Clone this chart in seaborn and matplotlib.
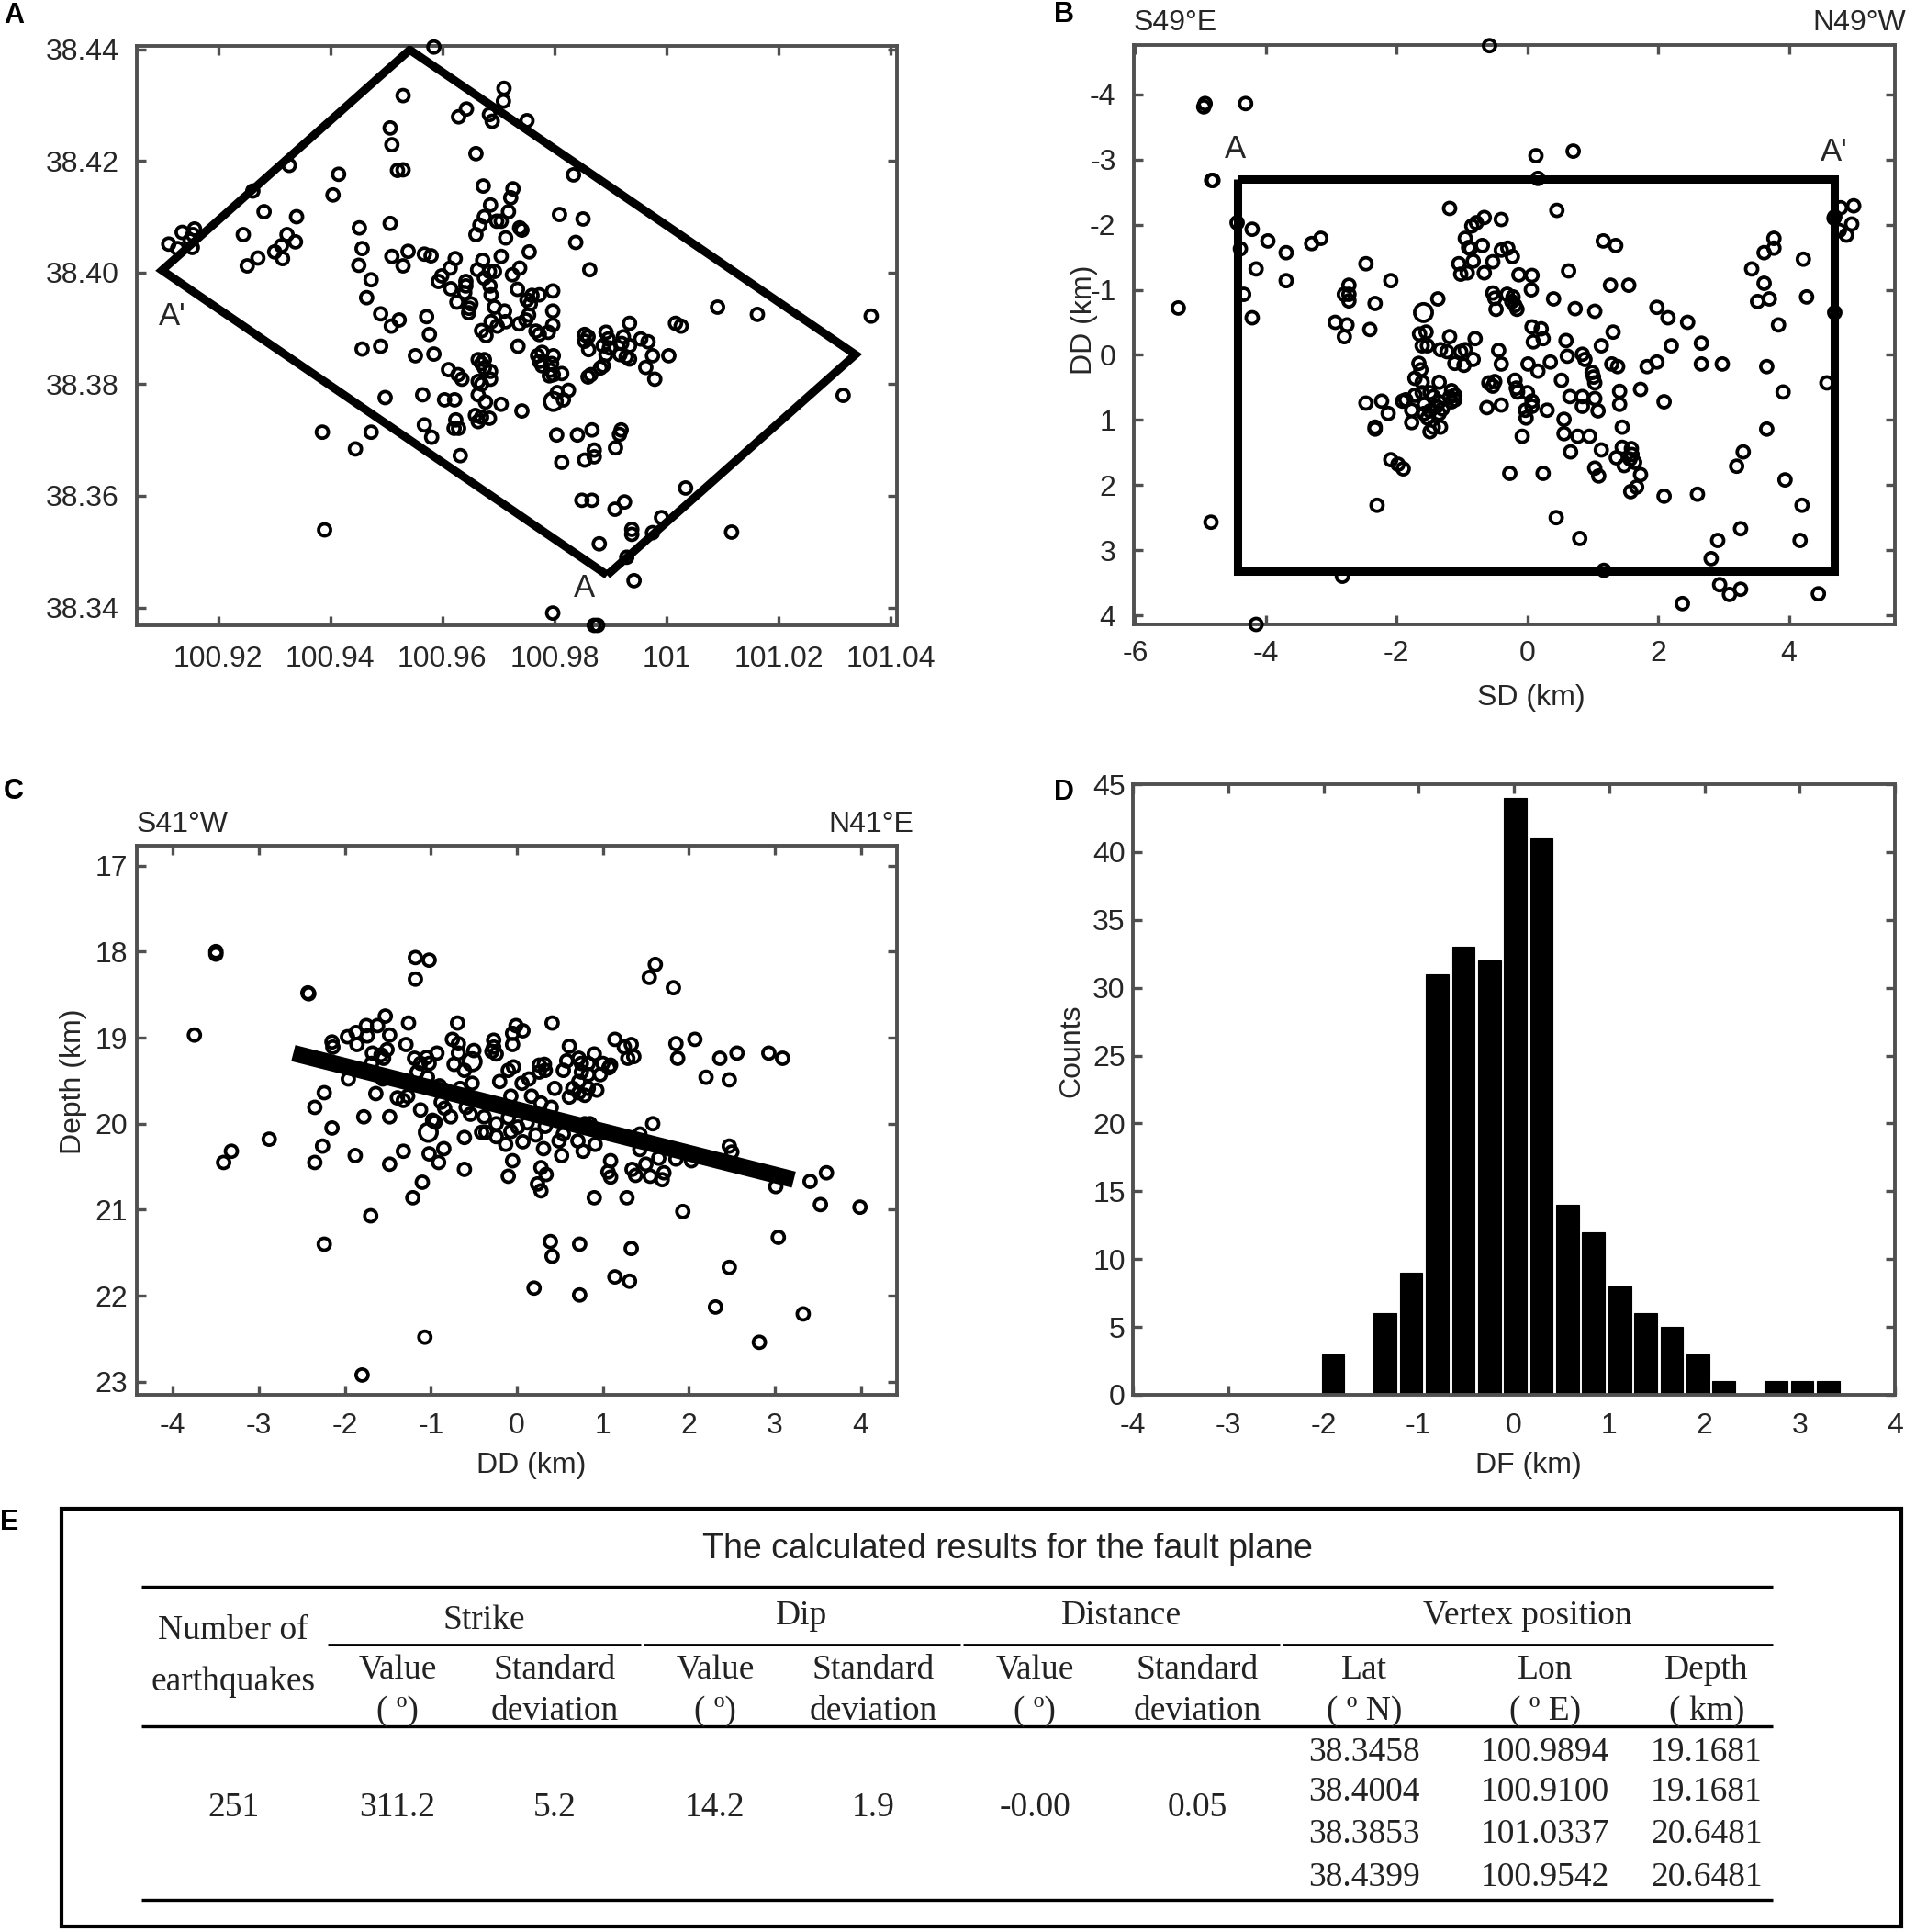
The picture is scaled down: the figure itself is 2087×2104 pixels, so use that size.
import matplotlib
matplotlib.use('Agg')
import matplotlib.pyplot as plt
import pandas as pd
import seaborn as sns

# values
A_POINTS = [
    (100.9585,38.4404),(100.971,38.433),(100.9709,38.4307),(100.953,38.4317),(100.9643,38.4293),(100.9629,38.4279),
    (100.9684,38.4283),(100.9689,38.4271),(100.9751,38.4272),(100.9507,38.4259),(100.951,38.4229),(100.966,38.4213),
    (100.952,38.4183),(100.953,38.4184),(100.9327,38.4192),(100.9415,38.4176),(100.9834,38.4175),(100.9262,38.4146),
    (100.9405,38.4139),(100.9673,38.4155),(100.9726,38.415),(100.9722,38.4134),(100.9686,38.4121),(100.9718,38.4109),
    (100.9675,38.41),(100.9667,38.4085),(100.966,38.4068),(100.9697,38.4092),(100.9705,38.4092),(100.9713,38.4062),
    (100.9738,38.408),(100.9742,38.4076),(100.9809,38.4104),(100.9851,38.4096),(100.9838,38.4054),(100.9282,38.4109),
    (100.934,38.41),(100.9245,38.4068),(100.9323,38.4068),(100.9338,38.4055),(100.9313,38.4048),(100.9301,38.4037),
    (100.9315,38.4025),(100.9271,38.4026),(100.9252,38.4012),(100.9112,38.4051),(100.9136,38.4072),(100.9158,38.4078),
    (100.9155,38.4068),(100.915,38.4058),(100.9128,38.4043),(100.9154,38.4045),(100.9452,38.408),(100.9507,38.4088),
    (100.9457,38.4043),(100.9451,38.4013),(100.951,38.4029),(100.9539,38.4038),(100.953,38.4012),(100.9568,38.4033),
    (100.958,38.403),(100.9473,38.3987),(100.9465,38.3955),(100.949,38.3926),(100.9523,38.3915),(100.9509,38.3904),
    (100.9572,38.3921),(100.9577,38.3889),(100.9457,38.3863),(100.949,38.3868),(100.9552,38.3851),(100.9585,38.3854),
    (100.9498,38.3776),(100.9565,38.3781),(100.9611,38.3826),(100.9628,38.3817),(100.9635,38.3809),(100.9604,38.3772),
    (100.9622,38.3772),(100.9623,38.4025),(100.9614,38.4008),(100.9599,38.3994),(100.9593,38.3984),(100.9615,38.3971),
    (100.9642,38.3984),(100.9642,38.3976),(100.964,38.3964),(100.9626,38.3947),(100.9651,38.3944),(100.9648,38.3936),
    (100.9647,38.3928),(100.9672,38.4022),(100.9663,38.4005),(100.9693,38.4002),(100.9684,38.4002),(100.9675,38.399),
    (100.9685,38.3976),(100.9687,38.396),(100.9693,38.3938),(100.9705,38.4029),(100.9725,38.3996),(100.9738,38.4008),
    (100.9755,38.4037),(100.9734,38.397),(100.9863,38.4005),(100.9797,38.3967),(100.9773,38.396),(100.976,38.3959),
    (100.9751,38.3951),(100.9757,38.3944),(100.9797,38.3931),(100.9797,38.3906),(100.9711,38.3931),(100.9713,38.3912),
    (100.9687,38.3912),(100.9698,38.3904),(100.967,38.3896),(100.9678,38.3887),(100.9754,38.3924),(100.9749,38.3915),
    (100.9737,38.3908),(100.9767,38.3895),(100.9773,38.3889),(100.9789,38.3893),(100.9735,38.3868),(100.9778,38.3857),
    (100.977,38.3851),(100.9798,38.3851),(100.9773,38.3841),(100.9778,38.3833),(100.9795,38.3837),(100.9793,38.3825),
    (100.9798,38.3817),(100.9813,38.3819),(100.9791,38.3815),(100.9664,38.3844),(100.9675,38.3844),(100.967,38.3837),
    (100.9675,38.3829),(100.9686,38.3823),(100.9686,38.3809),(100.9664,38.3805),(100.967,38.38),(100.9664,38.3781),
    (100.9677,38.3768),(100.9705,38.3764),(100.9742,38.3752),(100.9659,38.3744),(100.967,38.3741),(100.9664,38.3733),
    (100.9684,38.3739),(100.9624,38.3736),(100.9621,38.3721),(100.9629,38.3721),(100.9568,38.3727),(100.9581,38.3705),
    (100.9632,38.3672),(100.9386,38.3714),(100.9473,38.3714),(100.9445,38.3684),(100.9805,38.3785),(100.9816,38.3772),
    (100.9825,38.3789),(100.9804,38.3709),(100.9841,38.3709),(100.9867,38.3718),(100.9813,38.366),(100.9854,38.3664),
    (100.9871,38.3682),(100.9871,38.367),(100.9909,38.3686),(100.9919,38.3718),(100.9916,38.371),(100.9849,38.3592),
    (100.9867,38.3592),(100.9925,38.3589),(100.9908,38.3576),(101.0034,38.3614),(100.9991,38.3561),(100.9938,38.354),
    (100.9938,38.3531),(100.9975,38.3534),(100.988,38.3514),(100.9929,38.349),(100.9942,38.3448),(100.939,38.3539),
    (101.0116,38.3535),(100.9797,38.339),(100.9871,38.3368),(100.9877,38.3368),(100.9854,38.3877),(100.986,38.3885),
    (100.9854,38.3889),(100.9861,38.3862),(100.986,38.3813),(100.9865,38.3817),(100.9892,38.3893),(100.9896,38.3881),
    (100.9887,38.3869),(100.9898,38.3865),(100.9892,38.3853),(100.9887,38.3833),(100.9882,38.3829),(100.9923,38.3885),
    (100.992,38.3873),(100.9917,38.3853),(100.9934,38.3869),(100.9934,38.3845),(100.9928,38.3849),(100.9934,38.3909),
    (100.9954,38.3881),(100.9967,38.3876),(100.9975,38.3851),(101.0004,38.3851),(100.9963,38.383),(100.9979,38.3809),
    (101.0016,38.3909),(101.0026,38.3904),(101.0091,38.3938),(101.0162,38.3925),(101.0365,38.3922),(101.0315,38.378),
]
A_BIG = [(100.9798, 38.3769)]
A_VERTEX_LON = [100.9894, 101.0337, 100.9542, 100.9100, 100.9894]
A_VERTEX_LAT = [38.3458, 38.3853, 38.4399, 38.4004, 38.3458]

B_POINTS = [
    (-0.58,-4.75),(-4.95,-3.81),(-4.93,-3.86),(-4.31,-3.86),(0.13,-3.06),(0.70,-3.13),(-4.83,-2.68),(-4.81,-2.68),
    (0.16,-2.71),(-4.44,-2.03),(-4.21,-1.93),(-3.97,-1.75),(-3.69,-1.57),(-3.30,-1.71),(-3.16,-1.79),(-4.39,-1.63),
    (-4.15,-1.32),(-3.69,-1.14),(-4.34,-0.93),(-4.21,-0.57),(-5.34,-0.72),(-2.73,-1.07),(-2.80,-0.93),(-2.73,-0.93),
    (-2.73,-0.83),(-2.33,-0.79),(-2.47,-1.40),(-2.09,-1.14),(-2.94,-0.50),(-2.76,-0.46),(-2.80,-0.28),(-2.41,-0.39),
    (-1.19,-2.25),(-0.66,-2.11),(-0.40,-2.08),(-0.78,-2.03),(-0.85,-1.98),(-0.95,-1.79),(-0.90,-1.65),(-0.87,-1.63),
    (-0.69,-1.68),(-0.40,-1.61),(-0.30,-1.64),(-0.23,-1.51),(-0.53,-1.43),(-0.83,-1.44),(-1.05,-1.40),(-0.92,-1.26),
    (-1.02,-1.24),(-0.66,-1.26),(-0.13,-1.23),(0.07,-1.22),(0.06,-1.00),(0.63,-1.29),(0.45,-2.22),(1.16,-1.75),
    (1.35,-1.68),(1.27,-1.07),(1.55,-1.07),(-1.37,-0.86),(-0.53,-0.95),(-0.50,-0.87),(-0.31,-0.93),(-0.22,-0.89),
    (-0.24,-0.82),(-0.19,-0.76),(-0.48,-0.70),(-0.16,-0.70),(0.40,-0.86),(0.73,-0.71),(1.03,-0.67),(1.98,-0.73),
    (2.15,-0.57),(2.45,-0.50),(1.31,-0.35),(0.07,-0.43),(0.21,-0.40),(0.24,-0.25),(0.09,-0.20),(0.59,-0.22),
    (1.13,-0.14),(2.20,-0.14),(2.66,-0.18),(-1.65,-0.32),(-1.55,-0.35),(-1.61,-0.14),(-1.53,-0.14),(-1.19,-0.28),
    (-1.33,-0.08),(-1.23,-0.05),(-0.80,-0.25),(-0.95,-0.08),(-1.02,-0.05),(-0.83,0.07),(-0.97,0.16),(-1.11,0.13),
    (-0.44,-0.07),(-0.40,0.14),(0.01,0.14),(0.35,0.11),(0.16,0.25),(0.61,0.02),(0.84,-0.01),(0.88,0.07),
    (1.29,0.14),(1.38,0.18),(0.99,0.27),(1.01,0.34),(1.03,0.43),(1.83,0.18),(1.98,0.11),(2.66,0.14),
    (2.98,0.14),(3.66,0.18),(4.58,0.43),(3.91,0.57),(1.41,0.56),(1.73,0.53),(2.09,0.72),(1.41,0.76),
    (1.03,0.67),(1.08,0.86),(0.52,0.39),(-0.19,0.39),(-0.17,0.51),(-0.15,0.57),(-0.59,0.43),(-0.50,0.41),
    (-0.53,0.48),(0.00,0.58),(0.07,0.71),(0.07,0.79),(-0.03,0.85),(-0.02,0.97),(0.65,0.64),(0.84,0.64),
    (0.84,0.79),(0.30,0.85),(-0.62,0.81),(-0.40,0.77),(0.56,0.99),(0.56,1.21),(0.77,1.25),(0.95,1.25),
    (-0.08,1.25),(1.45,1.11),(0.66,1.49),(1.13,1.46),(1.45,1.42),(1.59,1.44),(1.60,1.53),(1.36,1.58),
    (1.57,1.60),(1.64,1.65),(1.48,1.70),(1.03,1.74),(1.09,1.86),(1.73,1.84),(1.67,2.03),(1.58,2.10),
    (-0.27,1.82),(0.24,1.82),(2.09,2.17),(2.60,2.14),(3.66,1.14),(3.30,1.49),(3.20,1.71),(3.94,1.92),
    (4.20,2.31),(4.17,2.85),(3.26,2.67),(2.91,2.85),(2.81,3.13),(0.44,2.50),(0.80,2.82),(-4.84,2.57),
    (-2.30,2.31),(-2.83,3.40),(1.17,3.31),(2.94,3.53),(3.09,3.68),(3.26,3.60),(2.37,3.82),(4.45,3.67),
    (-4.15,4.14),(-1.66,0.13),(-1.63,0.23),(-1.72,0.36),(-1.61,0.42),(-1.35,0.42),(-1.91,0.71),(-1.86,0.69),
    (-1.72,0.62),(-1.61,0.58),(-1.49,0.58),(-1.44,0.64),(-1.35,0.72),(-1.77,0.85),(-1.58,0.76),(-1.58,0.90),
    (-1.49,0.86),(-1.39,0.79),(-1.30,0.83),(-1.35,0.90),(-1.53,0.97),(-1.77,1.04),(-1.44,1.11),(-1.33,1.11),
    (-1.49,1.18),(-1.16,0.55),(-1.11,0.62),(-1.11,0.69),(-1.19,0.65),(-1.16,0.72),(-2.47,0.74),(-2.23,0.71),
    (-2.13,0.90),(-2.33,1.11),(-2.33,1.14),(-2.09,1.61),(-1.98,1.68),(-1.90,1.75),(4.70,-2.12),(4.79,-2.26),
    (4.99,-2.29),(4.96,-2.01),(4.77,-1.91),(4.88,-1.84),(4.69,-2.10),(4.70,-0.65),(3.77,-1.79),(3.77,-1.64),
    (3.62,-1.57),(3.43,-1.32),(3.62,-1.10),(3.52,-0.82),(3.70,-0.86),(3.84,-0.46),(4.22,-1.47),(4.27,-0.89),
]
B_BIG = [(-1.59, -0.65)]
B_RECT_SD = [-4.44, 4.70, 4.70, -4.44, -4.44]
B_RECT_DD = [-2.70, -2.70, 3.32, 3.32, -2.70]

C_POINTS = [
    (-3.50,18.0),(-3.50,18.03),(-3.75,18.97),(-2.43,18.48),(-2.42,18.49),(-1.18,18.07),(-1.02,18.10),(-1.18,18.32),
    (1.61,18.15),(1.54,18.30),(1.82,18.42),(-2.88,20.18),(-3.32,20.32),(-3.41,20.45),(-1.53,18.75),(-1.75,18.86),
    (-1.62,18.86),(-1.87,18.94),(-1.74,18.98),(-1.48,18.97),(-1.97,18.99),(-2.15,19.05),(-2.14,19.11),(-1.86,19.08),
    (-1.29,19.08),(-1.26,18.83),(-1.51,19.14),(-1.68,19.18),(-1.58,19.20),(-1.55,19.24),(-1.69,19.30),(-1.19,19.24),
    (-1.05,19.23),(-0.93,19.18),(-1.12,19.30),(-1.02,19.30),(-1.16,19.40),(-1.04,19.46),(-1.96,19.48),(-1.56,19.48),
    (-0.69,18.83),(-0.75,19.02),(-0.68,19.07),(-0.68,19.18),(-0.50,19.15),(-0.73,19.31),(-0.61,19.38),(-0.27,19.03),
    (-0.27,19.11),(-0.29,19.16),(-0.24,19.19),(-0.01,18.86),(-0.05,18.95),(0.07,18.92),(-0.05,19.08),(0.41,18.83),
    (0.61,19.10),(-0.10,19.38),(-0.04,19.34),(-0.20,19.51),(0.06,19.53),(0.14,19.48),(0.26,19.32),(0.32,19.31),
    (0.26,19.40),(0.33,19.38),(0.44,19.59),(0.54,19.38),(0.58,19.27),(-0.52,19.53),(-0.90,19.56),(-0.84,19.61),
    (-0.66,19.59),(-0.07,19.68),(0.17,19.68),(0.28,19.76),(0.40,19.81),(0.65,19.59),(0.61,19.69),(0.72,19.64),
    (0.79,19.67),(0.83,19.59),(0.93,19.61),(0.72,19.24),(0.90,19.19),(0.75,19.30),(0.83,19.30),(0.75,19.40),
    (0.83,19.43),(0.72,19.51),(1.00,19.30),(1.07,19.35),(0.97,19.43),(1.09,19.32),(1.29,19.24),(1.36,19.22),
    (1.14,19.02),(1.25,19.11),(1.33,19.08),(1.85,19.07),(1.87,19.24),(2.07,19.02),(2.36,19.24),(2.56,19.18),
    (2.20,19.46),(2.47,19.49),(2.93,19.18),(3.09,19.24),(-2.24,19.64),(-2.35,19.81),(-2.15,20.05),(-1.64,19.65),
    (-1.78,19.92),(-1.48,19.92),(-1.39,19.70),(-1.32,19.73),(-1.27,19.68),(-1.12,19.84),(-0.98,19.96),(-0.95,19.98),
    (-0.77,19.92),(-0.88,19.75),(-0.84,19.82),(-0.59,19.81),(-0.54,19.89),(-0.38,19.92),(-0.61,20.16),(-0.41,20.10),
    (-0.36,20.10),(-0.24,20.0),(-0.24,20.15),(-0.13,20.24),(-0.10,19.93),(-0.07,20.09),(0.07,20.21),(0.01,20.04),
    (0.12,19.99),(0.22,20.13),(0.33,20.03),(0.31,20.29),(0.49,20.20),(0.54,20.12),(0.52,20.37),(0.71,20.20),
    (0.77,20.32),(0.91,20.24),(0.79,20.0),(0.85,20.0),(1.09,20.43),(1.43,20.12),(1.43,20.30),(1.58,20.0),
    (1.65,20.40),(1.85,20.41),(2.03,20.43),(2.47,20.26),(2.50,20.33),(1.34,20.53),(1.38,20.60),(1.50,20.47),
    (1.55,20.61),(1.71,20.57),(1.69,20.65),(1.06,20.56),(1.09,20.62),(-2.26,20.26),(-2.35,20.45),(-1.88,20.37),
    (-1.32,20.32),(-1.48,20.47),(-1.02,20.35),(-0.85,20.29),(-0.91,20.45),(-0.61,20.53),(-0.05,20.43),(-0.10,20.61),
    (0.28,20.51),(0.34,20.59),(0.24,20.70),(0.28,20.78),(-1.10,20.68),(-1.21,20.86),(0.90,20.86),(1.28,20.86),
    (1.93,21.02),(-1.70,21.07),(-2.24,21.40),(0.39,21.37),(0.41,21.54),(0.73,21.40),(1.33,21.45),(1.14,21.78),
    (1.31,21.83),(0.20,21.91),(0.73,21.99),(2.47,21.67),(3.04,21.32),(2.31,22.13),(3.33,22.21),(2.82,22.54),
    (-1.07,22.48),(-1.80,22.92),(3.01,20.73),(3.41,20.67),(3.60,20.57),(3.53,20.94),(3.99,20.97),
]
C_BIG = [(-1.03, 20.10), (-0.52, 19.28)]
C_FAULT_DD = [-2.60, 3.22]
C_FAULT_DEPTH = [19.18, 20.65]

D_CENTERS = [-1.90, -1.63, -1.35, -1.08, -0.80, -0.53, -0.26, 0.01, 0.29, 0.56,
             0.83, 1.11, 1.38, 1.66, 1.93, 2.20, 2.47, 2.75, 3.02, 3.30]
D_COUNTS = [3, 0, 6, 9, 31, 33, 32, 44, 41, 14, 12, 8, 6, 5, 3, 1, 0, 1, 1, 1]

GROUP_HEADERS = ['Strike', 'Dip', 'Distance', 'Vertex position']
SUB_TOP = ['Value', 'Standard', 'Value', 'Standard', 'Value', 'Standard', 'Lat', 'Lon', 'Depth']
SUB_BOTTOM = ['( º)', 'deviation', '( º)', 'deviation', '( º)', 'deviation', '( º N)', '( º E)', '( km)']
MIDDLE_VALUES = ['251', '311.2', '5.2', '14.2', '1.9', '-0.00', '0.05']
VERTEX_LAT = ['38.3458', '38.4004', '38.3853', '38.4399']
VERTEX_LON = ['100.9894', '100.9100', '101.0337', '100.9542']
VERTEX_DEPTH = ['19.1681', '19.1681', '20.6481', '20.6481']

W, H = 2087, 2104
GRAY = '#505050'
TXT = '#262626'

sns.set_theme(style='ticks', rc={'axes.edgecolor': GRAY, 'axes.linewidth': 2.8})
plt.rcParams['font.family'] = ['Liberation Sans', 'DejaVu Sans']
plt.rcParams['axes.unicode_minus'] = False

fig = plt.figure(figsize=(W / 100, H / 100), dpi=100, facecolor='white')


def make_axes(left, top, right, bottom):
    ax = fig.add_axes([left / W, 1 - bottom / H, (right - left) / W, (bottom - top) / H])
    ax.tick_params(direction='in', length=7, width=2.4, color=GRAY, top=True, right=True,
                   labelsize=23, labelcolor=TXT)
    return ax


def rings(ax, points, big, cols):
    df = pd.DataFrame(points, columns=cols)
    df_big = pd.DataFrame(big, columns=cols)
    sns.scatterplot(data=df, x=cols[0], y=cols[1], ax=ax, s=88, marker='o', facecolor='none',
                    edgecolor='black', linewidth=2.7, clip_on=False, zorder=3)
    sns.scatterplot(data=df_big, x=cols[0], y=cols[1], ax=ax, s=190, marker='o', facecolor='none',
                    edgecolor='black', linewidth=2.7, clip_on=False, zorder=3)


def place_labels(ax, xlabel, ylabel, xpos, ypos):
    ax.set_xlabel(xlabel, fontsize=23, color=TXT, va='center')
    ax.set_ylabel(ylabel, fontsize=23, color=TXT, va='center')
    ax.xaxis.set_label_coords(*xpos, transform=ax.transAxes)
    ax.yaxis.set_label_coords(*ypos, transform=ax.transAxes)


# A: map
axA = make_axes(149, 50, 977, 681)
rings(axA, A_POINTS, A_BIG, ['lon', 'lat'])
sns.lineplot(x=A_VERTEX_LON, y=A_VERTEX_LAT, ax=axA, sort=False, estimator=None, color='black',
             linewidth=6.5, solid_joinstyle='miter', solid_capstyle='butt', zorder=4)
axA.set_xlim(100.9055, 101.0411)
axA.set_ylim(38.3368, 38.4406)
axA.set_xticks([100.92, 100.94, 100.96, 100.98, 101, 101.02, 101.04],
               ['100.92', '100.94', '100.96', '100.98', '101', '101.02', '101.04'])
axA.set_yticks([38.34, 38.36, 38.38, 38.40, 38.42, 38.44],
               ['38.34', '38.36', '38.38', '38.40', '38.42', '38.44'])
axA.tick_params(axis='x', pad=16)
axA.tick_params(axis='y', pad=14)
axA.set_xlabel('')
axA.set_ylabel('')
axA.text(100.9119, 38.3921, "A'", fontsize=25, color=TXT, ha='center', va='center')
axA.text(100.9854, 38.3435, 'A', fontsize=25, color=TXT, ha='center', va='center')

# B: fault plane view
axB = make_axes(1235, 49, 2064, 680)
rings(axB, B_POINTS, B_BIG, ['sd', 'dd'])
sns.lineplot(x=B_RECT_SD, y=B_RECT_DD, ax=axB, sort=False, estimator=None, color='black',
             linewidth=6.5, solid_joinstyle='miter', solid_capstyle='butt', zorder=4)
axB.set_xlim(-6.02, 5.62)
axB.set_ylim(4.14, -4.76)
axB.set_xticks([-6, -4, -2, 0, 2, 4])
axB.set_yticks([-4, -3, -2, -1, 0, 1, 2, 3, 4])
axB.tick_params(axis='x', pad=12)
axB.tick_params(axis='y', pad=14)
place_labels(axB, 'SD (km)', 'DD (km)', (0.522, -0.126), (-0.065, 0.526))
axB.text(-4.47, -3.16, 'A', fontsize=25, color=TXT, ha='center', va='center')
axB.text(4.69, -3.12, "A'", fontsize=25, color=TXT, ha='center', va='center')
axB.text(0.0, 1.038, 'S49°E', transform=axB.transAxes, fontsize=23, color=TXT, ha='left', va='center')
axB.text(1.015, 1.038, 'N49°W', transform=axB.transAxes, fontsize=23, color=TXT, ha='right', va='center')

# C: cross section
axC = make_axes(149, 921, 977, 1519)
rings(axC, C_POINTS, C_BIG, ['dd', 'depth'])
sns.lineplot(x=C_FAULT_DD, y=C_FAULT_DEPTH, ax=axC, sort=False, estimator=None, color='black',
             linewidth=13, solid_capstyle='butt', zorder=4)
axC.set_xlim(-4.42, 4.42)
axC.set_ylim(23.15, 16.77)
axC.set_xticks([-4, -3, -2, -1, 0, 1, 2, 3, 4])
axC.set_yticks([17, 18, 19, 20, 21, 22, 23])
axC.tick_params(axis='x', pad=14)
axC.tick_params(axis='y', pad=7)
place_labels(axC, 'DD (km)', 'Depth (km)', (0.519, -0.128), (-0.083, 0.570))
axC.text(0.0, 1.038, 'S41°W', transform=axC.transAxes, fontsize=23, color=TXT, ha='left', va='center')
axC.text(1.022, 1.038, 'N41°E', transform=axC.transAxes, fontsize=23, color=TXT, ha='right', va='center')

# D: histogram of distance to the fault
axD = make_axes(1234, 854, 2064, 1519)
sns.histplot(x=D_CENTERS, weights=D_COUNTS, bins=20, binrange=(-2.036, 3.436), shrink=0.87, ax=axD,
             color='black', edgecolor='black', linewidth=0.8, alpha=1)
axD.set_xlim(-4, 4)
axD.set_ylim(0, 45)
axD.set_xticks([-4, -3, -2, -1, 0, 1, 2, 3, 4])
axD.set_yticks(list(range(0, 50, 5)))
axD.tick_params(axis='x', pad=14)
axD.tick_params(axis='y', pad=6)
place_labels(axD, 'DF (km)', 'Counts', (0.519, -0.116), (-0.080, 0.563))

# panel letters
for letter, px, py in [('A', 15, 17), ('B', 1159, 16), ('C', 15, 862), ('D', 1159, 863), ('E', 10, 1658)]:
    fig.text(px / W, 1 - py / H, letter, fontsize=22, fontweight='bold', color='black', ha='center', va='center')


# E: results table
def hline(x0, x1, y, lw):
    fig.add_artist(plt.Line2D([x0 / W, x1 / W], [1 - y / H, 1 - y / H], color='black', linewidth=lw,
                              solid_capstyle='butt'))


def cell(px, py, s):
    fig.text(px / W, 1 - (py + 2) / H, s, fontsize=27, family='Liberation Serif', color='#222222',
             ha='center', va='center')


fig.add_artist(plt.Rectangle((67 / W, 1 - 2098 / H), (2071 - 67) / W, (2098 - 1643) / H, fill=False,
                             edgecolor='black', linewidth=3, transform=fig.transFigure))
fig.text(1097 / W, 1 - 1687 / H, 'The calculated results for the fault plane', fontsize=27,
         family='Liberation Sans', color='#222222', ha='center', va='center')
hline(154, 1931, 1728, 2.4)
for x0, x1 in [(357, 698), (701, 1046), (1049, 1394), (1397, 1931)]:
    hline(x0, x1, 1791, 2)
hline(154, 1931, 1880, 2.4)
hline(154, 1931, 2069, 2.4)

cell(254, 1774, 'Number of')
cell(254, 1830, 'earthquakes')
for s, px, py in zip(GROUP_HEADERS, [527, 873, 1221, 1664], [1763, 1758, 1758, 1758]):
    cell(px, py, s)
sub_x = [433, 604, 779, 951, 1127, 1304, 1486, 1683, 1859]
for px, top, bottom in zip(sub_x, SUB_TOP, SUB_BOTTOM):
    cell(px, 1817, top)
    cell(px, 1862, bottom)
for px, s in zip([254, 433, 604, 779, 951, 1127, 1304], MIDDLE_VALUES):
    cell(px, 1967, s)
for py, lat, lon, dep in zip([1907, 1950, 1996, 2043], VERTEX_LAT, VERTEX_LON, VERTEX_DEPTH):
    cell(1486, py, lat)
    cell(1683, py, lon)
    cell(1859, py, dep)

fig.savefig('out.png', dpi=100)
